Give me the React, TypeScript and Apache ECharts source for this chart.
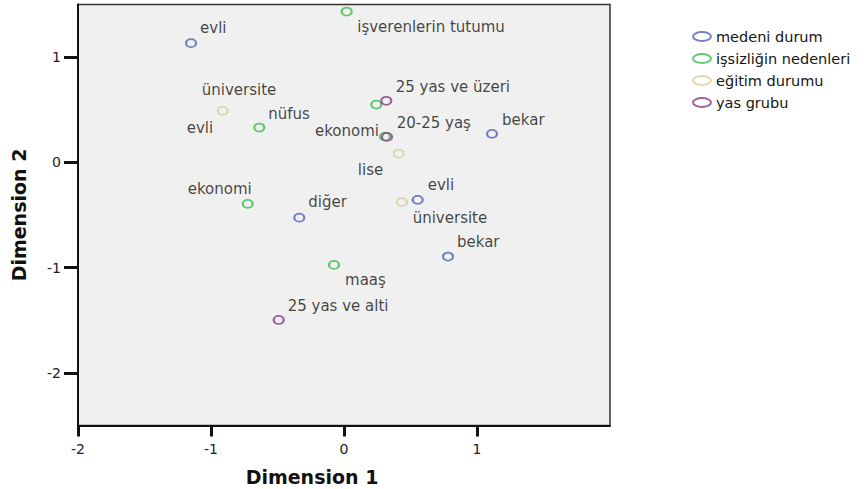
import React, { useEffect, useRef } from "react";
import * as echarts from "echarts";

// ---- data ----
const legendNames = ["medeni durum", "işsizliğin nedenleri", "eğitim durumu", "yas grubu"];

const medeniNames = ["evli", "bekar", "diğer", "evli", "bekar"];
const medeniX = [-1.15, 1.113, -0.336, 0.554, 0.782];
const medeniY = [1.133, 0.271, -0.525, -0.356, -0.895];

const nedenNames = ["işverenlerin tutumu", "nüfus", "evli", "ekonomi", "ekonomi", "maaş"];
const nedenX = [0.02, -0.637, 0.243, 0.308, -0.724, -0.075];
const nedenY = [1.433, 0.331, 0.549, 0.245, -0.394, -0.974];

const egitimNames = ["üniversite", "lise", "üniversite"];
const egitimX = [-0.912, 0.411, 0.436];
const egitimY = [0.49, 0.084, -0.378];

const yasNames = ["25 yas ve üzeri", "20-25 yaş", "25 yas ve alti"];
const yasX = [0.318, 0.323, -0.491];
const yasY = [0.585, 0.242, -1.497];

const xTicks = [-2, -1, 0, 1];
const yTicks = [-2, -1, 0, 1];

// ---- styling (label placement per point, colours) ----
type LS = [string, number, number];
const medeniLabel: LS[] = [["left", 9, -15], ["left", 10, -14], ["left", 9, -15.5], ["left", 10, -14.5], ["left", 9, -14.4]];
const nedenLabel: LS[] = [["left", 10.6, 15], ["left", 9, -13.4], ["left", -189.6, 23], ["right", -6, -5.7], ["right", 4, -14.7], ["left", 11, 15]];
const egitimLabel: LS[] = [["left", -21, -21], ["right", -15.4, 16.3], ["left", 10.7, 16]];
const yasLabel: LS[] = [["left", 9.4, -13.7], ["left", 9.7, -13.7], ["left", 9, -14]];

const colors = ["#5262b4", "#3dbb4f", "#d6cf9f", "#873a86"];
const FONT = "DejaVu Sans";
const markerPath = "path://M0,4A5,4 0 1 1 10,4A5,4 0 1 1 0,4Z";
const legendPath = "path://M0,4.5A9,4.5 0 1 1 18,4.5A9,4.5 0 1 1 0,4.5Z";

function buildSeries(name: string, names: string[], xs: number[], ys: number[], ls: LS[], color: string) {
  return {
    name,
    type: "scatter",
    symbol: markerPath,
    symbolSize: [10, 8],
    itemStyle: { color: "rgba(0,0,0,0)", borderColor: color, borderWidth: 2 },
    label: {
      show: true,
      position: "inside",
      formatter: "{b}",
      fontFamily: FONT,
      fontSize: 15,
      color: "#151515",
      textBorderWidth: 0,
      verticalAlign: "middle",
    },
    emphasis: { disabled: true },
    data: names.map((n, i) => ({
      name: n,
      value: [xs[i], ys[i]],
      label: { align: ls[i][0], offset: [ls[i][1], ls[i][2]] },
    })),
    z: 3,
  };
}

export default function App() {
  const ref = useRef<HTMLDivElement>(null);
  useEffect(() => {
    if (!ref.current) return;
    const chart = echarts.init(ref.current, undefined, { renderer: "svg" });
    chart.setOption({
      animation: false,
      backgroundColor: "#ffffff",
      grid: {
        left: 78,
        right: 255,
        top: 4.5,
        bottom: 63.5,
        show: true,
        containLabel: false,
        outerBoundsMode: "none",
        backgroundColor: "#f0f0f0",
        borderColor: "#333",
        borderWidth: 1.5,
      },
      legend: {
        orient: "vertical",
        left: 687,
        top: 24,
        itemWidth: 18,
        itemHeight: 9,
        itemGap: 7,
        icon: legendPath,
        selectedMode: false,
        itemStyle: { color: "rgba(0,0,0,0)", borderWidth: 2 },
        textStyle: { fontFamily: FONT, fontSize: 14.5, color: "#151515", lineHeight: 15 },
        data: legendNames.map((n, i) => ({
          name: n,
          itemStyle: { color: "rgba(0,0,0,0)", borderColor: colors[i], borderWidth: 2 },
        })),
      },
      xAxis: {
        type: "value",
        min: -2,
        max: 2,
        name: "Dimension 1",
        nameLocation: "middle",
        nameGap: 42,
        nameTextStyle: { fontFamily: FONT, fontSize: 19, fontWeight: "bold", color: "#111", padding: [0, 64, 0, 0] },
        axisLine: { show: true, onZero: false, lineStyle: { color: "#111", width: 2 } },
        axisTick: { show: true, customValues: xTicks, length: 11, lineStyle: { color: "#111", width: 3 } },
        axisLabel: { customValues: xTicks, margin: 16, fontFamily: FONT, fontSize: 14, color: "#222" },
        splitLine: { show: false },
      },
      yAxis: {
        type: "value",
        min: -2.5,
        max: 1.5,
        name: "Dimension 2",
        nameLocation: "middle",
        nameGap: 50,
        nameTextStyle: { fontFamily: FONT, fontSize: 19, fontWeight: "bold", color: "#111" },
        axisLine: { show: true, onZero: false, lineStyle: { color: "#111", width: 2 } },
        axisTick: { show: true, customValues: yTicks, length: 14, lineStyle: { color: "#111", width: 3 } },
        axisLabel: { customValues: yTicks, margin: 17, fontFamily: FONT, fontSize: 14, color: "#222" },
        splitLine: { show: false },
      },
      series: [
        buildSeries(legendNames[0], medeniNames, medeniX, medeniY, medeniLabel, colors[0]),
        buildSeries(legendNames[1], nedenNames, nedenX, nedenY, nedenLabel, colors[1]),
        buildSeries(legendNames[2], egitimNames, egitimX, egitimY, egitimLabel, colors[2]),
        buildSeries(legendNames[3], yasNames, yasX, yasY, yasLabel, colors[3]),
      ],
    });
    return () => chart.dispose();
  }, []);
  return (
    <div
      ref={ref}
      style={{ position: "absolute", left: 0, top: 0, width: 865, height: 489 }}
    />
  );
}
